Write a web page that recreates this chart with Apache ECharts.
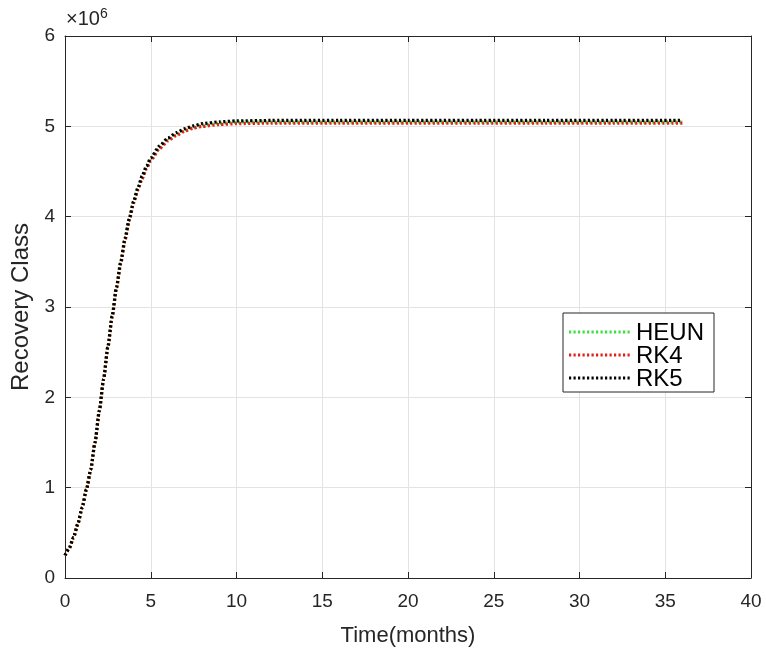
<!DOCTYPE html>
<html><head><meta charset="utf-8">
<script src="https://cdn.jsdelivr.net/npm/echarts@6/dist/echarts.min.js"></script>
<style>html,body{margin:0;padding:0;background:#fff}#c{width:766px;height:653px}</style>
</head><body><div id="c"></div>
<script>
const xTicks = [0, 5, 10, 15, 20, 25, 30, 35, 40];
const yTicks = [0, 1, 2, 3, 4, 5, 6];
const time = [0, 0.25, 0.5, 0.75, 1, 1.25, 1.5, 1.75, 2, 2.25, 2.5, 2.75, 3, 3.25, 3.5, 3.75, 4, 4.25, 4.5, 4.75, 5, 5.5, 6, 6.5, 7, 7.5, 8, 9, 10, 12, 16, 20, 24, 28, 32, 36];
const heun = [0.25, 0.33, 0.45, 0.6, 0.78, 0.98, 1.2, 1.5, 1.85, 2.2, 2.56, 2.9, 3.21, 3.49, 3.75, 3.97, 4.16, 4.31, 4.435, 4.545, 4.635, 4.765, 4.855, 4.915, 4.962, 4.992, 5.015, 5.035, 5.045, 5.05, 5.05, 5.05, 5.05, 5.05, 5.05, 5.05];
const rk4 = [0.25, 0.33, 0.45, 0.6, 0.78, 0.98, 1.2, 1.5, 1.85, 2.2, 2.55, 2.89, 3.2, 3.48, 3.74, 3.96, 4.15, 4.3, 4.42, 4.53, 4.62, 4.75, 4.84, 4.9, 4.95, 4.98, 5.0, 5.02, 5.03, 5.035, 5.035, 5.035, 5.035, 5.035, 5.035, 5.035];
const rk5 = [0.25, 0.33, 0.45, 0.6, 0.78, 0.98, 1.2, 1.5, 1.85, 2.2, 2.56, 2.9, 3.22, 3.5, 3.76, 3.98, 4.17, 4.32, 4.45, 4.56, 4.65, 4.78, 4.87, 4.93, 4.975, 5.005, 5.03, 5.05, 5.06, 5.065, 5.065, 5.065, 5.065, 5.065, 5.065, 5.065];
const seriesNames = ['HEUN', 'RK4', 'RK5'];
const seriesColors = ['#3ee03e', '#e0201b', '#000000'];
const scale = 1e6;

const chart = echarts.init(document.getElementById('c'));
const font = 'Liberation Sans, Arial, sans-serif';
const axCol = '#262626';
function pairs(arr){ return time.map((t,i)=>[t, arr[i]*scale]); }
const dataSets = [heun, rk4, rk5];
const dash = [2.2, 2.3];
const series = seriesNames.map((n,i)=>({
  name: n, type: 'line', data: pairs(dataSets[i]), showSymbol: false, symbol: 'none',
  smooth: 0.2, smoothMonotone: 'x', xAxisIndex: 0, yAxisIndex: 0,
  lineStyle: {color: seriesColors[i], width: 3.2, type: dash},
  itemStyle: {color: seriesColors[i]}
}));
const common = {
  axisLine: {show: true, onZero: false, lineStyle: {color: axCol, width: 1}},
  axisTick: {show: true, inside: true, length: 6, lineStyle: {color: axCol}},
};
// legend drawn as graphic elements
const lgX = 563, lgY = 313, lgW = 151, lgH = 79, rowGap = 23, row0 = 332;
const legendEls = [{type: 'rect', shape: {x: lgX, y: lgY, width: lgW, height: lgH},
  style: {fill: '#fff', stroke: axCol, lineWidth: 1}, z: 10}];
seriesNames.forEach((n,i)=>{
  const y = row0 + i*rowGap;
  legendEls.push({type: 'line', shape: {x1: 569, y1: y, x2: 632, y2: y},
    style: {stroke: seriesColors[i], lineWidth: 3.2, lineDash: dash}, z: 11});
  legendEls.push({type: 'text', x: 636, y: y + 1, z: 11,
    style: {text: n, fontFamily: font, fontSize: 24, fill: '#000', verticalAlign: 'middle', align: 'left'}});
});
chart.setOption({
  animation: false,
  backgroundColor: '#fff',
  grid: {left: 65, right: 15, top: 36, bottom: 75, containLabel: false},
  xAxis: [
    Object.assign({type: 'value', min: 0, max: 40, interval: 5, position: 'bottom',
      splitLine: {show: true, lineStyle: {color: '#e3e3e3', width: 1}},
      axisLabel: {fontFamily: font, fontSize: 19, color: axCol, margin: 14},
      name: 'Time(months)', nameLocation: 'middle', nameGap: 47,
      nameTextStyle: {fontFamily: font, fontSize: 22, color: axCol}}, common),
    Object.assign({type: 'value', min: 0, max: 40, interval: 5, position: 'top',
      splitLine: {show: false}, axisLabel: {show: false}}, common)
  ],
  yAxis: [
    Object.assign({type: 'value', min: 0, max: 6 * scale, interval: scale, position: 'left',
      splitLine: {show: true, lineStyle: {color: '#e3e3e3', width: 1}},
      axisLabel: {fontFamily: font, fontSize: 19, color: axCol, margin: 10, formatter: v => String(v / scale)},
      name: 'Recovery Class', nameLocation: 'middle', nameGap: 31, nameRotate: 90,
      nameTextStyle: {fontFamily: font, fontSize: 24, color: axCol}}, common),
    Object.assign({type: 'value', min: 0, max: 6 * scale, interval: scale, position: 'right',
      splitLine: {show: false}, axisLabel: {show: false}}, common)
  ],
  graphic: [{
    type: 'text', left: 66, top: 7,
    style: {text: '×10{s|6}', fontFamily: font, fontSize: 20, fill: axCol,
      rich: {s: {fontSize: 14, verticalAlign: 'top', padding: [0,0,11,0], fill: axCol, fontFamily: font}}}
  }].concat(legendEls),
  series: series
});
</script></body></html>
